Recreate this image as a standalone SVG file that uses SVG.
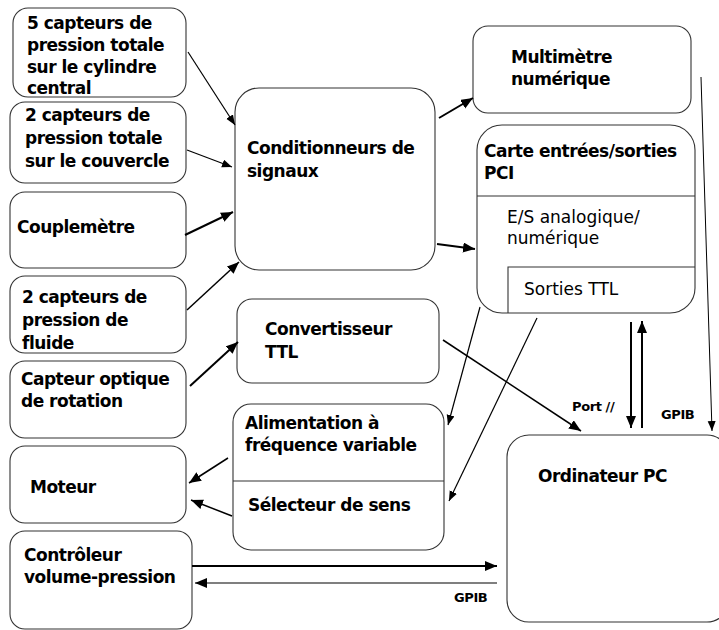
<svg xmlns="http://www.w3.org/2000/svg" width="719" height="630" viewBox="0 0 719 630">
<style>
.box{fill:#fff;stroke:#333;stroke-width:1.1}
.div{stroke:#333;stroke-width:1.1;fill:none}
.b{font-family:"DejaVu Sans",Verdana,sans-serif;font-weight:bold;font-size:17px;letter-spacing:-0.5px;fill:#000}
.r{font-family:"DejaVu Sans",Verdana,sans-serif;font-size:17px;fill:#000}
.s{font-family:"DejaVu Sans",Verdana,sans-serif;font-weight:bold;font-size:13px;letter-spacing:-0.4px;fill:#000}
.c{stroke:#000;fill:none}
</style>
<defs>
<marker id="ah" markerUnits="userSpaceOnUse" markerWidth="13" markerHeight="11" refX="12" refY="5" orient="auto"><path d="M0,0 L12,5 L0,10 z" fill="#000"/></marker>
<marker id="ahs" markerUnits="userSpaceOnUse" markerWidth="11" markerHeight="9" refX="10" refY="4" orient="auto"><path d="M0,0 L10,4 L0,8 z" fill="#000"/></marker>
</defs>
<rect width="719" height="630" fill="#fff"/>

<g id="n-cylindre"><rect class="box" x="13" y="8" width="173" height="89" rx="15"/>
<text class="b" x="27" y="29">5 capteurs de</text><text class="b" x="27" y="51">pression totale</text><text class="b" x="27" y="73">sur le cylindre</text><text class="b" x="27" y="94">central</text></g>

<g id="n-couvercle"><rect class="box" x="10" y="102" width="176" height="81" rx="15"/>
<text class="b" x="25" y="121">2 capteurs de</text><text class="b" x="25" y="144">pression totale</text><text class="b" x="25" y="167">sur le couvercle</text></g>

<g id="n-couplemetre"><rect class="box" x="10" y="192" width="176" height="76" rx="15"/>
<text class="b" x="17" y="233">Couplemètre</text></g>

<g id="n-fluide"><rect class="box" x="10" y="276" width="176" height="77" rx="15"/>
<text class="b" x="22" y="303">2 capteurs de</text><text class="b" x="22" y="326">pression de</text><text class="b" x="22" y="349">fluide</text></g>

<g id="n-optique"><rect class="box" x="10" y="361" width="176" height="77" rx="15"/>
<text class="b" x="21" y="385">Capteur optique</text><text class="b" x="21" y="407">de rotation</text></g>

<g id="n-moteur"><rect class="box" x="10" y="446" width="176" height="77" rx="15"/>
<text class="b" x="30" y="493">Moteur</text></g>

<g id="n-controleur"><rect class="box" x="10" y="531" width="182" height="98" rx="15"/>
<text class="b" x="24" y="561">Contrôleur</text><text class="b" x="24" y="583">volume-pression</text></g>

<g id="n-conditionneurs"><rect class="box" x="235" y="88" width="200" height="182" rx="24"/>
<text class="b" x="247" y="154">Conditionneurs de</text><text class="b" x="247" y="177">signaux</text></g>

<g id="n-convertisseur"><rect class="box" x="237" y="299" width="202" height="84" rx="15"/>
<text class="b" x="265" y="335">Convertisseur</text><text class="b" x="265" y="358">TTL</text></g>

<g id="n-alimentation"><rect class="box" x="233" y="404" width="211" height="146" rx="18"/>
<line class="div" x1="233" y1="481" x2="444" y2="481"/>
<text class="b" x="245" y="429">Alimentation à</text><text class="b" x="245" y="451">fréquence variable</text>
<text class="b" x="248" y="511">Sélecteur de sens</text></g>

<g id="n-multimetre"><rect class="box" x="473" y="26" width="218" height="87" rx="15"/>
<text class="b" x="511" y="63">Multimètre</text><text class="b" x="511" y="85">numérique</text></g>

<g id="n-carte"><rect class="box" x="477" y="125" width="218" height="188" rx="25"/>
<line class="div" x1="477" y1="196" x2="695" y2="196"/>
<polyline class="div" points="508,313 508,267 695,267"/>
<text class="b" x="484" y="157">Carte entrées/sorties</text><text class="b" x="484" y="179">PCI</text>
<text class="r" x="507" y="223">E/S analogique/</text><text class="r" x="507" y="244">numérique</text>
<text class="r" x="524" y="295">Sorties TTL</text></g>

<g id="n-ordinateur"><rect class="box" x="507" y="435" width="222" height="187" rx="22"/>
<text class="b" x="538" y="482">Ordinateur PC</text></g>

<g id="connectors">
<line class="c" stroke-width="1.2" x1="188" y1="52" x2="235" y2="125" marker-end="url(#ahs)"/>
<line class="c" stroke-width="1.2" x1="187" y1="150" x2="232" y2="167" marker-end="url(#ahs)"/>
<line class="c" stroke-width="2" x1="185" y1="235" x2="233" y2="212" marker-end="url(#ah)"/>
<line class="c" stroke-width="1.5" x1="187" y1="310" x2="239" y2="262" marker-end="url(#ah)"/>
<line class="c" stroke-width="2" x1="190" y1="386" x2="238" y2="342" marker-end="url(#ah)"/>
<line class="c" stroke-width="2" x1="439" y1="118" x2="473" y2="98" marker-end="url(#ah)"/>
<line class="c" stroke-width="2" x1="437" y1="244" x2="475" y2="249" marker-end="url(#ah)"/>
<line class="c" stroke-width="1.2" x1="480" y1="307" x2="448" y2="425" marker-end="url(#ahs)"/>
<line class="c" stroke-width="1.2" x1="537" y1="318" x2="449" y2="501" marker-end="url(#ahs)"/>
<line class="c" stroke-width="1.5" x1="443" y1="340" x2="581" y2="431" marker-end="url(#ah)"/>
<line class="c" stroke-width="2" x1="631" y1="322" x2="631" y2="428" marker-end="url(#ah)"/>
<line class="c" stroke-width="2" x1="642" y1="428" x2="642" y2="321" marker-end="url(#ah)"/>
<line class="c" stroke-width="1" x1="701" y1="77" x2="712" y2="431" marker-end="url(#ahs)"/>
<line class="c" stroke-width="2" x1="192" y1="566" x2="497" y2="566" marker-end="url(#ah)"/>
<line class="c" stroke-width="1.2" x1="497" y1="583" x2="195" y2="583" marker-end="url(#ah)"/>
<line class="c" stroke-width="1.5" x1="228" y1="458" x2="189" y2="483" marker-end="url(#ah)"/>
<line class="c" stroke-width="1.5" x1="232" y1="516" x2="191" y2="500" marker-end="url(#ah)"/>
<text class="s" x="572" y="411">Port //</text>
<text class="s" x="661" y="419">GPIB</text>
<text class="s" x="454" y="602">GPIB</text>
</g>
</svg>
